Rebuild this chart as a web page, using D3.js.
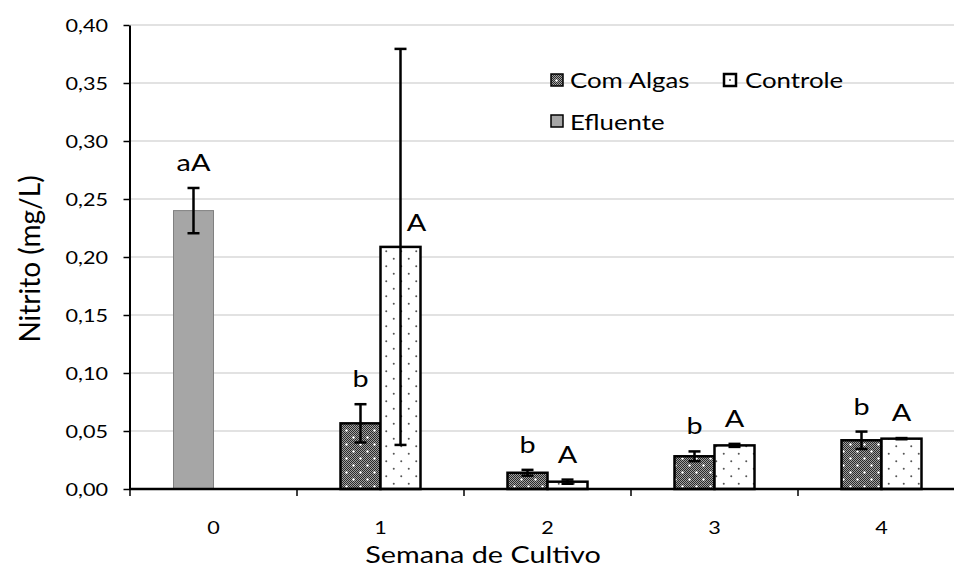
<!DOCTYPE html>
<html>
<head>
<meta charset="utf-8">
<script src="https://cdn.jsdelivr.net/npm/d3@7"></script>
<style>
  html, body { margin: 0; padding: 0; background: #fff; }
  text { font-family: Lato, "Open Sans", sans-serif; fill: #000; }
</style>
</head>
<body>
<svg id="chart" width="954" height="570"></svg>
<script>
// ---------- data ----------
const weeks = ["0", "1", "2", "3", "4"];
const seriesNames = ["Com Algas", "Controle"];
const comAlgas      = [null, 0.0566, 0.0140, 0.0282, 0.0420];
const comAlgasErr   = [null, 0.0165, 0.0025, 0.0042, 0.0075];
const comAlgasLbl   = ["", "b", "b", "b", "b"];
const controle      = [null, 0.2087, 0.0063, 0.0376, 0.0434];
const controleErr   = [null, 0.1707, 0.0018, 0.0013, 0.0005];
const controleLbl   = ["", "A", "A", "A", "A"];
const efluente      = [0.2400, null, null, null, null];
const efluenteErr   = [0.0195, null, null, null, null];
const efluenteLbl   = ["aA", "", "", "", ""];
const yTicks = [0, 0.05, 0.10, 0.15, 0.20, 0.25, 0.30, 0.35, 0.40];
const yTitle = "Nitrito (mg/L)";
const xTitle = "Semana de Cultivo";

// ---------- setup ----------
const W = 954, H = 570;
const svg = d3.select("#chart");
const SX = 1.2; // horizontal text stretch
const loc = d3.formatLocale({decimal: ",", thousands: ".", grouping: [3], currency: ["R$", ""]});
const fmt = loc.format(".2f");

const x = d3.scaleBand().domain(weeks).range([130, 965]).padding(0);
const inner = d3.scaleBand().domain(seriesNames)
  .range([x.bandwidth() / 2 - 40, x.bandwidth() / 2 + 40]).padding(0);
const y = d3.scaleLinear().domain([0, 0.40]).range([489, 25]);

// patterns
const defs = svg.append("defs");
const chk = defs.append("pattern").attr("id", "chk")
  .attr("patternUnits", "userSpaceOnUse").attr("width", 2).attr("height", 2);
chk.append("rect").attr("width", 2).attr("height", 2).attr("fill", "#a0a0a0");
chk.append("rect").attr("width", 1).attr("height", 1).attr("fill", "#2a2a2a");
chk.append("rect").attr("x", 1).attr("y", 1).attr("width", 1).attr("height", 1).attr("fill", "#2a2a2a");
const pa = defs.append("pattern").attr("id", "algas")
  .attr("patternUnits", "userSpaceOnUse").attr("width", 14).attr("height", 14);
pa.append("rect").attr("width", 14).attr("height", 14).attr("fill", "url(#chk)");
[[3.5, 3.5], [10.5, 10.5]].forEach(([cx, cy]) =>
  pa.append("circle").attr("cx", cx).attr("cy", cy).attr("r", 1.2).attr("fill", "#fff"));
const pc = defs.append("pattern").attr("id", "ctrl")
  .attr("patternUnits", "userSpaceOnUse").attr("width", 15).attr("height", 15);
pc.append("rect").attr("width", 15).attr("height", 15).attr("fill", "#fff");
[[3.75, 3.75], [11.25, 11.25]].forEach(([cx, cy]) =>
  pc.append("circle").attr("cx", cx).attr("cy", cy).attr("r", 1).attr("fill", "#555"));

// gridlines
svg.append("g").selectAll("line").data(yTicks.filter(t => t > 0)).join("line")
  .attr("x1", 130).attr("x2", W).attr("y1", d => y(d)).attr("y2", d => y(d))
  .attr("stroke", "#d9d9d9").attr("stroke-width", 1.5);

// ---------- bars ----------
function rows(vals, errs, lbls, name) {
  return weeks.map((w, i) => ({w, v: vals[i], e: errs[i], l: lbls[i], name}))
    .filter(d => d.v !== null);
}
const dA = rows(comAlgas, comAlgasErr, comAlgasLbl, "Com Algas");
const dC = rows(controle, controleErr, controleLbl, "Controle");
const dE = rows(efluente, efluenteErr, efluenteLbl, "Com Algas"); // occupies first slot

const bx = d => x(d.w) + inner(d.name);
const bw = inner.bandwidth();
const bars = svg.append("g");
bars.selectAll(".e").data(dE).join("rect")
  .attr("x", bx).attr("width", bw)
  .attr("y", d => y(d.v)).attr("height", d => y(0) - y(d.v))
  .attr("fill", "#a6a6a6").attr("stroke", "#808080").attr("stroke-width", 1);
bars.selectAll(".a").data(dA).join("rect")
  .attr("x", bx).attr("width", bw)
  .attr("y", d => y(d.v)).attr("height", d => y(0) - y(d.v))
  .attr("fill", "url(#algas)").attr("stroke", "#000").attr("stroke-width", 2.5);
bars.selectAll(".c").data(dC).join("rect")
  .attr("x", bx).attr("width", bw)
  .attr("y", d => y(d.v)).attr("height", d => y(0) - y(d.v))
  .attr("fill", "url(#ctrl)").attr("stroke", "#000").attr("stroke-width", 2.5);

// error bars
const all = dE.concat(dA, dC);
const eg = svg.append("g").attr("stroke", "#000").attr("stroke-width", 2.5);
all.forEach(d => {
  const cx = bx(d) + bw / 2;
  eg.append("line").attr("x1", cx).attr("x2", cx).attr("y1", y(d.v - d.e)).attr("y2", y(d.v + d.e));
  [d.v - d.e, d.v + d.e].forEach(v =>
    eg.append("line").attr("x1", cx - 6).attr("x2", cx + 6).attr("y1", y(v)).attr("y2", y(v)));
});

// letter labels
function stretched(sel, tx, ty) {
  return sel.attr("transform", `translate(${tx},${ty}) scale(${SX},1)`);
}
const lg = svg.append("g");
all.filter(d => d.l).forEach(d => {
  const cx = bx(d) + bw / 2;
  const beside = d.e > 0.5 * d.v;
  const tx = beside ? cx + 16 : cx;
  const ty = beside ? y(d.v) - 25 : y(d.v + d.e) - 26;
  stretched(lg.append("text").text(d.l), tx, ty)
    .attr("text-anchor", "middle").attr("dominant-baseline", "central")
    .attr("font-size", 24);
});

// ---------- axes ----------
const yAxis = svg.append("g").attr("transform", "translate(129.5,0)")
  .call(d3.axisLeft(y).tickValues(yTicks).tickFormat(fmt).tickSize(6).tickSizeOuter(0));
yAxis.select(".domain").attr("stroke", "#000").attr("stroke-width", 2);
yAxis.selectAll(".tick line").attr("stroke", "#000").attr("stroke-width", 1.5);
yAxis.selectAll(".tick text").attr("x", -21.5 / SX).attr("dy", "0.34em")
  .attr("transform", `scale(${SX},1)`).attr("font-size", 18)
  .attr("font-family", "Lato, sans-serif");

const xAxis = svg.append("g").attr("transform", "translate(0,489)")
  .call(d3.axisBottom(x).tickSize(0).tickSizeOuter(0).tickPadding(0));
xAxis.select(".domain").attr("stroke", "#000").attr("stroke-width", 2.5)
  .attr("d", `M129,0H${W}`);
xAxis.selectAll(".tick text").attr("y", 39).attr("dy", "0.34em")
  .attr("transform", `scale(${SX},1)`).attr("font-size", 18)
  .attr("font-family", "Lato, sans-serif");
// category boundary ticks
svg.append("g").selectAll("line").data(weeks).join("line")
  .attr("x1", d => x(d)).attr("x2", d => x(d))
  .attr("y1", 489).attr("y2", 496).attr("stroke", "#000").attr("stroke-width", 1.5);

// titles
stretched(svg.append("text").text(xTitle), 483, 554)
  .attr("text-anchor", "middle").attr("dominant-baseline", "central").attr("font-size", 24);
svg.append("text").text(yTitle)
  .attr("transform", `translate(29,259) rotate(-90)`)
  .attr("text-anchor", "middle").attr("dominant-baseline", "central").attr("font-size", 28);

// ---------- legend ----------
const leg = svg.append("g");
const legItems = [
  {name: "Com Algas", fill: "url(#algas)", bx: 551, by: 74, tx: 570, ty: 80, sw: 1.5},
  {name: "Controle", fill: "#fff", bx: 724, by: 74, tx: 745, ty: 80, sw: 2.5},
  {name: "Efluente", fill: "#a6a6a6", bx: 551, by: 115, tx: 570, ty: 122, sw: 1.5}
];
legItems.forEach(it => {
  leg.append("rect").attr("x", it.bx).attr("y", it.by).attr("width", 12).attr("height", 12)
    .attr("fill", it.fill).attr("stroke", "#000").attr("stroke-width", it.sw);
  if (it.name === "Controle")
    leg.append("circle").attr("cx", it.bx + 6).attr("cy", it.by + 6).attr("r", 1).attr("fill", "#333");
  stretched(leg.append("text").text(it.name), it.tx, it.ty)
    .attr("dominant-baseline", "central").attr("font-size", 21.5);
});
</script>
</body>
</html>
